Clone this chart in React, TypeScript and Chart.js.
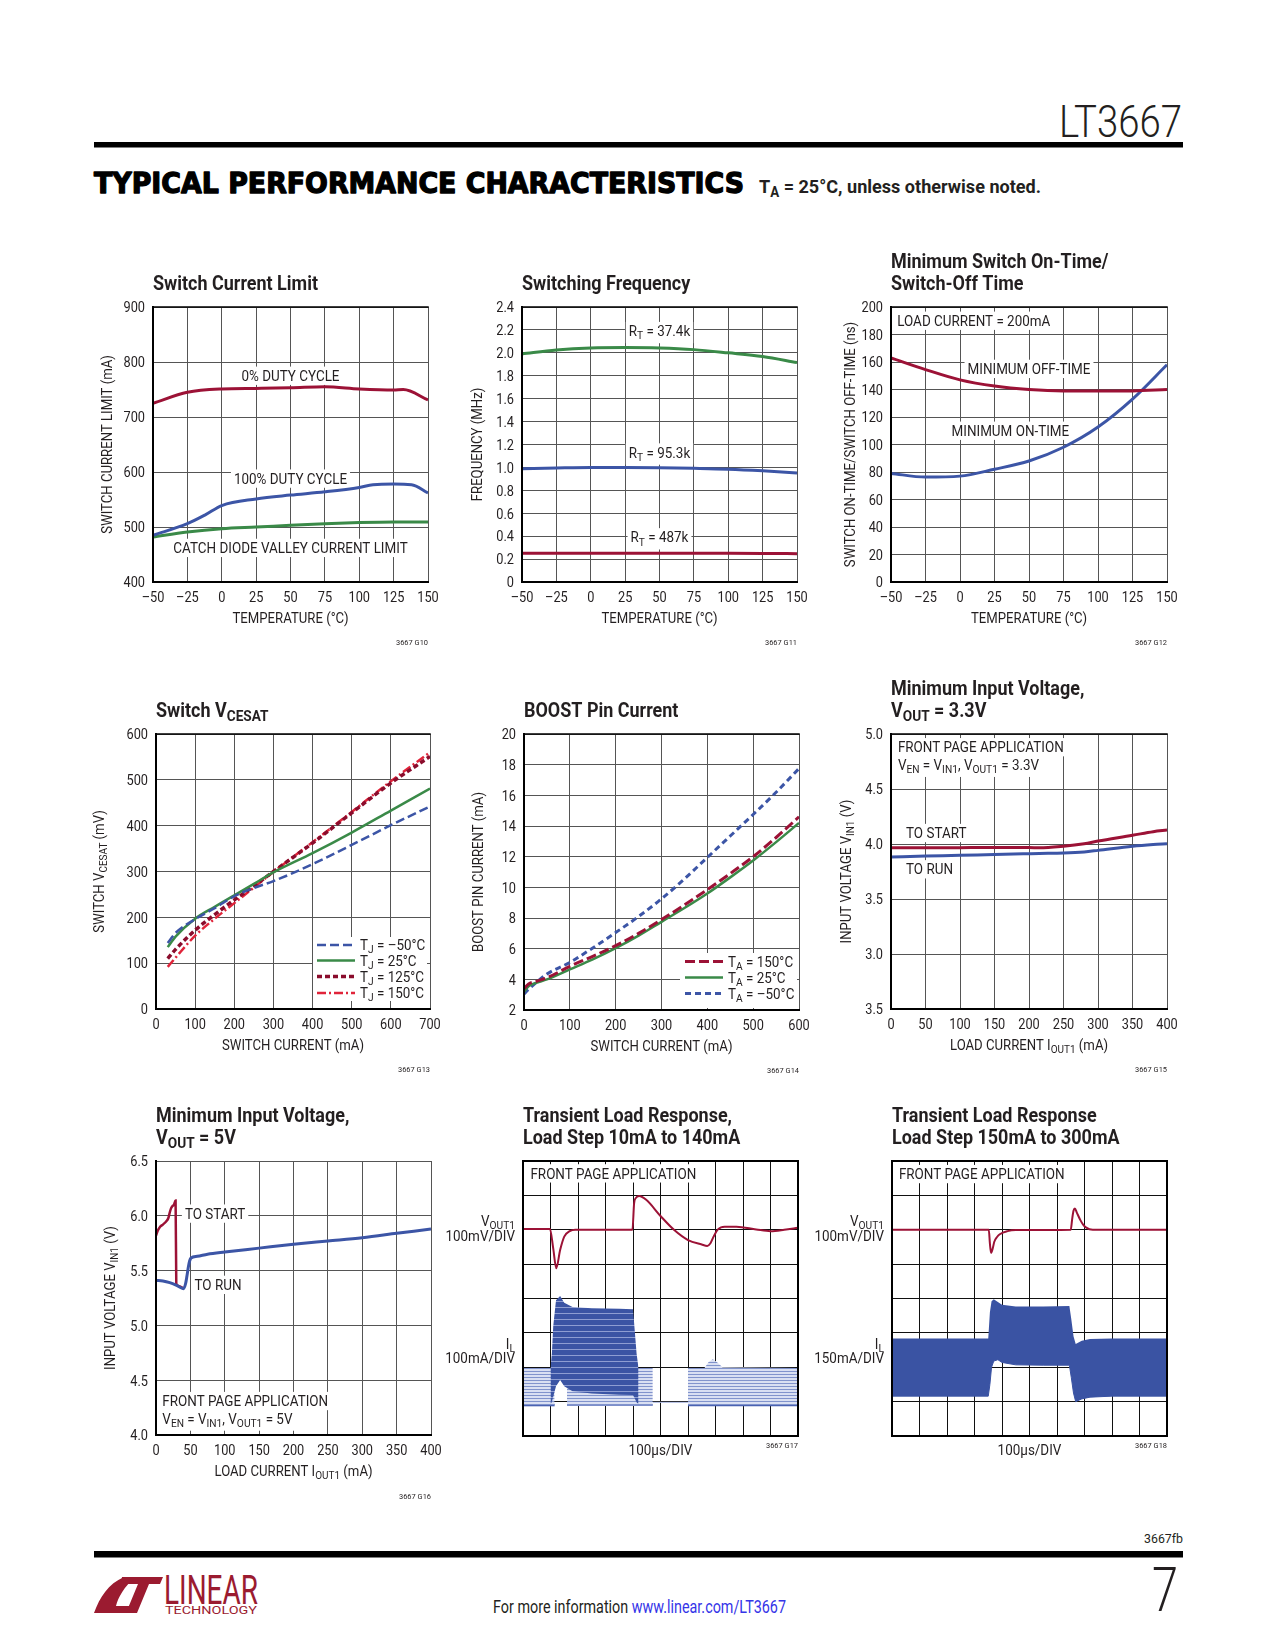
import React, { useEffect, useRef } from 'react';
import { Chart, registerables } from 'chart.js';

Chart.register(...registerables);

// ------------------------------------------------------------------ DATA
const TEMP_LABELS = ['–50', '–25', '0', '25', '50', '75', '100', '125', '150'];

// G10 Switch Current Limit
const G10_Y_LABELS = ['400', '500', '600', '700', '800', '900'];
const G10_DUTY0_T = [-50, -25, 0, 25, 50, 75, 100, 125, 132, 150];
const G10_DUTY0 = [725, 745, 751, 752, 753, 755, 751, 749, 750, 731];
const G10_DUTY100_T = [-50, -25, -12, 0, 25, 50, 75, 100, 110, 125, 138, 150];
const G10_DUTY100 = [485, 506, 522, 539, 551, 558, 564, 572, 577, 578, 577, 562];
const G10_VALLEY_T = [-50, -25, 0, 25, 50, 75, 100, 125, 150];
const G10_VALLEY = [482, 491, 497, 500, 503, 506, 508, 509, 509];

// G11 Switching Frequency
const G11_Y_LABELS = ['0', '0.2', '0.4', '0.6', '0.8', '1.0', '1.2', '1.4', '1.6', '1.8', '2.0', '2.2', '2.4'];
const G11_T = [-50, -25, 0, 25, 50, 75, 100, 125, 150];
const G11_RT37K = [1.99, 2.024, 2.042, 2.046, 2.042, 2.028, 2.0, 1.968, 1.915];
const G11_RT95K = [0.988, 0.995, 1.0, 1.0, 0.998, 0.992, 0.984, 0.97, 0.952];
const G11_RT487K = [0.25, 0.25, 0.25, 0.25, 0.25, 0.25, 0.25, 0.249, 0.247];

// G12 Minimum Switch On-Time / Off-Time
const G12_Y_LABELS = ['0', '20', '40', '60', '80', '100', '120', '140', '160', '180', '200'];
const G12_T = [-50, -25, 0, 25, 50, 75, 100, 125, 150];
const G12_OFF = [163, 154.5, 147, 142.5, 140, 139, 139, 139, 140];
const G12_ON = [79, 76.3, 77, 82, 88, 98, 112.7, 133, 158];

// G13 Switch VCESAT
const G13_X_LABELS = ['0', '100', '200', '300', '400', '500', '600', '700'];
const G13_Y_LABELS = ['0', '100', '200', '300', '400', '500', '600'];
const G13_I = [30, 50, 100, 150, 200, 250, 300, 400, 500, 600, 700];
const G13_M50 = [144, 166, 196, 220, 246, 264, 279, 316, 358, 401, 442];
const G13_25 = [135, 158, 197, 223, 248, 273, 298, 340, 385, 433, 481];
const G13_125 = [110, 130, 172, 206, 238, 268, 300, 362, 428, 493, 551];
const G13_150 = [92, 112, 160, 197, 231, 265, 299, 364, 430, 497, 560];

// G14 BOOST Pin Current
const G14_X_LABELS = ['0', '100', '200', '300', '400', '500', '600'];
const G14_Y_LABELS = ['2', '4', '6', '8', '10', '12', '14', '16', '18', '20'];
const G14_I = [0, 10, 25, 50, 100, 150, 200, 250, 300, 350, 400, 450, 500, 550, 600];
const G14_150 = [3.4, 3.7, 3.85, 4.1, 4.85, 5.5, 6.2, 7.0, 7.9, 8.85, 9.85, 10.9, 12.0, 13.25, 14.6];
const G14_25 = [3.2, 3.55, 3.75, 4.0, 4.65, 5.3, 6.03, 6.85, 7.75, 8.65, 9.6, 10.65, 11.75, 12.95, 14.2];
const G14_M50 = [3.05, 3.35, 3.75, 4.35, 5.1, 6.05, 7.05, 8.1, 9.25, 10.55, 11.95, 13.35, 14.75, 16.2, 17.75];

// G15 Minimum Input Voltage, VOUT = 3.3V
const LOAD_LABELS = ['0', '50', '100', '150', '200', '250', '300', '350', '400'];
const G15_Y_LABELS = ['3.5', '3.0', '3.5', '4.0', '4.5', '5.0'];
const G15_I = [0, 50, 100, 150, 200, 215, 250, 280, 300, 350, 380, 400];
const G15_START = [3.965, 3.966, 3.967, 3.968, 3.968, 3.965, 3.98, 4.003, 4.027, 4.079, 4.112, 4.127];
const G15_RUN = [3.882, 3.89, 3.897, 3.905, 3.912, 3.914, 3.918, 3.928, 3.942, 3.979, 3.995, 4.003];

// G16 Minimum Input Voltage, VOUT = 5V
const G16_Y_LABELS = ['4.0', '4.5', '5.0', '5.5', '6.0', '6.5'];
const G16_START_I = [0, 3, 6, 10, 15, 18, 20, 22, 24, 26, 28.5, 29.5, 33, 38, 40];
const G16_START = [5.82, 5.87, 5.9, 5.92, 5.95, 5.98, 6.03, 6.07, 6.09, 6.1, 6.14, 5.38, 5.36, 5.345, 5.335];
const G16_RUN_I = [0, 10, 20, 30, 40, 43, 45, 47, 49, 51, 60, 75, 100, 150, 200, 250, 300, 350, 400];
const G16_RUN = [5.41, 5.405, 5.39, 5.365, 5.335, 5.38, 5.45, 5.53, 5.59, 5.615, 5.63, 5.65, 5.67, 5.705, 5.74, 5.77, 5.8, 5.84, 5.88];

// G17 Transient Load Response 10mA -> 140mA (scope divisions)
const G17_VOUT_X = [0, 0.5, 0.98, 1.1, 1.21, 1.35, 1.5, 1.7, 1.9, 3, 3.98, 4.04, 4.1, 4.22, 4.48, 5.0, 5.5, 6.0, 6.5, 6.7, 6.81, 6.93, 7.09, 7.33, 7.76, 8.48, 9.0, 9.5, 10];
const G17_VOUT = [6.02, 6.02, 6.02, 5.45, 4.88, 5.41, 5.8, 5.96, 6.0, 6.0, 6.0, 6.77, 6.92, 6.98, 6.87, 6.4, 5.99, 5.7, 5.57, 5.53, 5.6, 5.8, 6.01, 6.09, 6.09, 6.01, 5.96, 6.0, 6.06];
const G17_IL_HI_X = [1.0, 1.05, 1.1, 1.2, 1.35, 1.5, 1.8, 2.5, 3.5, 4.0, 4.06, 4.13, 4.2];
const G17_IL_HI_TOP = [1.98, 2.4, 3.2, 3.95, 4.07, 3.88, 3.75, 3.72, 3.7, 3.69, 3.1, 2.4, 1.98];
const G17_IL_HI_BOT = [0.92, 1.0, 1.15, 1.45, 1.63, 1.45, 1.3, 1.24, 1.2, 1.19, 1.1, 0.98, 0.92];
const G17_IL_LO1_X = [0, 1.15];
const G17_IL_LO1_TOP = [1.98, 1.98];
const G17_IL_LO1_BOT = [0.9, 0.9];
const G17_IL_LO2_X = [1.6, 4.72];
const G17_IL_LO2_TOP = [1.98, 1.98];
const G17_IL_LO2_BOT = [0.9, 0.9];
const G17_IL_LO3_X = [6.0, 6.6, 6.75, 6.9, 7.05, 7.25, 10];
const G17_IL_LO3_TOP = [1.98, 1.98, 2.15, 2.23, 2.15, 2.0, 1.98];
const G17_IL_LO3_BOT = [0.9, 0.9, 0.9, 0.9, 0.9, 0.9, 0.9];
const G17_IL_IDLE_X = [4.72, 6.0];
const G17_IL_IDLE = [0.98, 0.98];

// G18 Transient Load Response 150mA -> 300mA (scope divisions)
const G18_VOUT_X = [0, 3.52, 3.56, 3.6, 3.66, 3.72, 3.82, 3.92, 4.2, 4.5, 6.5, 6.55, 6.6, 6.65, 6.72, 6.85, 6.95, 7.05, 7.3, 10];
const G18_VOUT = [6.0, 6.0, 5.6, 5.33, 5.45, 5.65, 5.79, 5.87, 5.96, 5.99, 6.0, 6.3, 6.55, 6.62, 6.5, 6.28, 6.15, 6.07, 6.0, 6.0];
const G18_IL_X = [0, 3.5, 3.56, 3.62, 3.7, 3.85, 4.0, 4.5, 5.5, 6.45, 6.52, 6.6, 6.68, 6.9, 7.2, 8, 10];
const G18_IL_TOP = [2.84, 2.84, 3.6, 3.92, 3.98, 3.9, 3.82, 3.77, 3.77, 3.78, 3.4, 2.9, 2.68, 2.77, 2.82, 2.84, 2.84];
const G18_IL_BOT = [1.16, 1.16, 1.5, 2.0, 2.18, 2.22, 2.14, 2.07, 2.06, 2.06, 1.7, 1.25, 1.0, 1.08, 1.13, 1.16, 1.16];

// ------------------------------------------------------------------ STYLE
const FONT = 'Roboto, "Liberation Sans", Arial, sans-serif';
const INK = '#231f20';
const RED = '#9c1236';
const BLUE = '#3c55a6';
const GREEN = '#3a8a48';
const DKRED = '#8a0c2c';
const BRRED = '#e0243a';

type Cls = 'tick' | 'ann' | 'axis' | 'title' | 'code';
const TEXT_STYLES: Record<Cls, { size: number; bold: boolean; ref: string; w: number }> = {
  tick: { size: 15, bold: false, ref: '900', w: 21.5 },
  ann: { size: 14.5, bold: false, ref: '0% DUTY CYCLE', w: 98 },
  axis: { size: 14.5, bold: false, ref: 'SWITCH CURRENT (mA)', w: 142 },
  title: { size: 19.5, bold: true, ref: 'Switch Current Limit', w: 165 },
  code: { size: 8, bold: false, ref: '3667 G13', w: 32 },
};
const sxCache: Partial<Record<Cls, number>> = {};

function fontOf(cls: Cls, sub: boolean) {
  const st = TEXT_STYLES[cls];
  const size = sub ? st.size * 0.76 : st.size;
  return `${st.bold ? 'bold ' : ''}${size}px ${FONT}`;
}
function sxOf(ctx: CanvasRenderingContext2D, cls: Cls) {
  if (sxCache[cls] == null) {
    ctx.save();
    ctx.font = fontOf(cls, false);
    const w = ctx.measureText(TEXT_STYLES[cls].ref).width;
    ctx.restore();
    sxCache[cls] = w > 0 ? TEXT_STYLES[cls].w / w : 1;
  }
  return sxCache[cls] as number;
}

type Seg = { t: string; sub: boolean };
function parseRich(s: string): Seg[] {
  const out: Seg[] = [];
  const re = /_\{([^}]*)\}/g;
  let last = 0;
  let m: RegExpExecArray | null;
  while ((m = re.exec(s))) {
    if (m.index > last) out.push({ t: s.slice(last, m.index), sub: false });
    out.push({ t: m[1], sub: true });
    last = m.index + m[0].length;
  }
  if (last < s.length) out.push({ t: s.slice(last), sub: false });
  return out;
}

function drawRich(
  ctx: CanvasRenderingContext2D,
  text: string,
  x: number,
  y: number,
  cls: Cls,
  align: 'left' | 'center' | 'right',
  o: { bg?: boolean; rot?: boolean; color?: string } = {}
) {
  const st = TEXT_STYLES[cls];
  const sx = sxOf(ctx, cls);
  const segs = parseRich(text);
  ctx.save();
  let raw = 0;
  const ws = segs.map((s) => {
    ctx.font = fontOf(cls, s.sub);
    const w = ctx.measureText(s.t).width;
    raw += w;
    return w;
  });
  const w = raw * sx;
  ctx.translate(x, y);
  if (o.rot) ctx.rotate(-Math.PI / 2);
  const x0 = align === 'left' ? 0 : align === 'center' ? -w / 2 : -w;
  const cap = st.size * 0.711;
  const hasSub = segs.some((s) => s.sub);
  if (o.bg) {
    ctx.fillStyle = '#fff';
    ctx.fillRect(x0 - 3, -cap / 2 - 4, w + 6, cap + 8 + (hasSub ? 3 : 0));
  }
  ctx.fillStyle = o.color || INK;
  ctx.textAlign = 'left';
  ctx.textBaseline = 'alphabetic';
  ctx.translate(x0, cap / 2);
  ctx.scale(sx, 1);
  let cx = 0;
  segs.forEach((s, i) => {
    ctx.font = fontOf(cls, s.sub);
    ctx.fillText(s.t, cx, s.sub ? st.size * 0.22 : 0);
    cx += ws[i];
  });
  ctx.restore();
}

function pts(xs: number[], ys: number[]) {
  return xs.map((x, i) => ({ x, y: ys[i] }));
}
function curve(xs: number[], ys: number[], color: string, width = 3, extra: any = {}) {
  return {
    data: pts(xs, ys),
    borderColor: color,
    borderWidth: width,
    pointRadius: 0,
    fill: false,
    cubicInterpolationMode: 'monotone',
    borderCapStyle: 'butt',
    ...extra,
  };
}
function bandTop(xs: number[], ys: number[], bg: any) {
  return { data: pts(xs, ys), borderColor: 'rgba(0,0,0,0)', borderWidth: 0.01, pointRadius: 0, fill: '+1', backgroundColor: bg, tension: 0 };
}
function bandBot(xs: number[], ys: number[], color = 'rgba(0,0,0,0)', width = 0.01) {
  return { data: pts(xs, ys), borderColor: color, borderWidth: width, pointRadius: 0, fill: false, tension: 0 };
}
function stripe(ctx: CanvasRenderingContext2D, rows: [string, number][]) {
  const c = document.createElement('canvas');
  const h = rows.reduce((s, r) => s + r[1], 0);
  c.width = 4;
  c.height = h;
  const g = c.getContext('2d') as CanvasRenderingContext2D;
  let y = 0;
  for (const [col, hh] of rows) {
    g.fillStyle = col;
    g.fillRect(0, y, 4, hh);
    y += hh;
  }
  return ctx.createPattern(c, 'repeat');
}

// ------------------------------------------------------------------ PANELS
type Note = { text: string; x: number; y: number; align?: 'left' | 'center' | 'right'; bg?: boolean };
type LegendCfg = {
  items: { ds: number; text: string }[];
  lineL: number;
  lineR: number;
  textL: number;
  rows: number[];
  box: { l: number; t: number; r: number; b: number };
};
type PanelCfg = {
  plot: [number, number, number, number];
  x: [number, number, number];
  y: [number, number, number];
  datasets: (ctx: CanvasRenderingContext2D) => any[];
  title: string[];
  xTitle?: string;
  yTitle?: string;
  yOff?: number;
  xLabels?: string[];
  yLabels?: string[];
  code: string;
  codeDy: number;
  notes: Note[];
  legend?: LegendCfg;
  topBorder?: boolean;
  scope?: boolean;
  side?: { text: string; dy: number }[];
  under?: string;
};

const PANELS: PanelCfg[] = [
  {
    plot: [153, 307, 275, 275],
    x: [-50, 150, 25],
    y: [400, 900, 100],
    datasets: () => [
      curve(G10_DUTY0_T, G10_DUTY0, RED),
      curve(G10_DUTY100_T, G10_DUTY100, BLUE),
      curve(G10_VALLEY_T, G10_VALLEY, GREEN),
    ],
    title: ['Switch Current Limit'],
    yTitle: 'SWITCH CURRENT LIMIT (mA)',
    yOff: 46,
    xTitle: 'TEMPERATURE (°C)',
    xLabels: TEMP_LABELS,
    yLabels: G10_Y_LABELS,
    code: '3667 G10',
    codeDy: 60,
    topBorder: true,
    notes: [
      { text: '0% DUTY CYCLE', x: 50, y: 775, bg: true },
      { text: '100% DUTY CYCLE', x: 50, y: 588, bg: true },
      { text: 'CATCH DIODE VALLEY CURRENT LIMIT', x: 50, y: 462, bg: true },
    ],
  },
  {
    plot: [522, 307, 275, 275],
    x: [-50, 150, 25],
    y: [0, 2.4, 0.2],
    datasets: () => [
      curve(G11_T, G11_RT37K, GREEN),
      curve(G11_T, G11_RT95K, BLUE),
      curve(G11_T, G11_RT487K, RED),
    ],
    title: ['Switching Frequency'],
    yTitle: 'FREQUENCY (MHz)',
    yOff: 45,
    xTitle: 'TEMPERATURE (°C)',
    xLabels: TEMP_LABELS,
    yLabels: G11_Y_LABELS,
    code: '3667 G11',
    codeDy: 60,
    topBorder: true,
    notes: [
      { text: 'R_{T} = 37.4k', x: 50, y: 2.19, bg: true },
      { text: 'R_{T} = 95.3k', x: 50, y: 1.13, bg: true },
      { text: 'R_{T} = 487k', x: 50, y: 0.39, bg: true },
    ],
  },
  {
    plot: [891, 307, 276, 275],
    x: [-50, 150, 25],
    y: [0, 200, 20],
    datasets: () => [curve(G12_T, G12_OFF, RED), curve(G12_T, G12_ON, BLUE)],
    title: ['Minimum Switch On-Time/', 'Switch-Off Time'],
    yTitle: 'SWITCH ON-TIME/SWITCH OFF-TIME (ns)',
    yOff: 41,
    xTitle: 'TEMPERATURE (°C)',
    xLabels: TEMP_LABELS,
    yLabels: G12_Y_LABELS,
    code: '3667 G12',
    codeDy: 60,
    topBorder: true,
    notes: [
      { text: 'LOAD CURRENT = 200mA', x: -45.5, y: 190, align: 'left', bg: true },
      { text: 'MINIMUM OFF-TIME', x: 50, y: 155, bg: true },
      { text: 'MINIMUM ON-TIME', x: 36.5, y: 110, bg: true },
    ],
  },
  {
    plot: [156, 734, 274, 275],
    x: [0, 700, 100],
    y: [0, 600, 100],
    datasets: () => [
      curve(G13_I, G13_M50, BLUE, 2.5, { borderDash: [9, 4] }),
      curve(G13_I, G13_25, GREEN, 2.5),
      curve(G13_I, G13_125, DKRED, 3.5, { borderDash: [5, 3] }),
      curve(G13_I, G13_150, BRRED, 2.5, { borderDash: [9, 3, 2, 3] }),
    ],
    title: ['Switch V_{CESAT}'],
    yTitle: 'SWITCH V_{CESAT} (mV)',
    yOff: 57,
    xTitle: 'SWITCH CURRENT (mA)',
    xLabels: G13_X_LABELS,
    yLabels: G13_Y_LABELS,
    code: '3667 G13',
    codeDy: 60,
    topBorder: true,
    notes: [],
    legend: {
      items: [
        { ds: 0, text: 'T_{J} = –50°C' },
        { ds: 1, text: 'T_{J} = 25°C' },
        { ds: 2, text: 'T_{J} = 125°C' },
        { ds: 3, text: 'T_{J} = 150°C' },
      ],
      lineL: 113,
      lineR: 75,
      textL: 70,
      rows: [64, 48.5, 32.5, 16],
      box: { l: 117, t: 72, r: 3, b: 8 },
    },
  },
  {
    plot: [524, 734, 275, 276],
    x: [0, 600, 100],
    y: [2, 20, 2],
    datasets: () => [
      curve(G14_I, G14_150, RED, 3, { borderDash: [10, 4] }),
      curve(G14_I, G14_25, GREEN, 2.5),
      curve(G14_I, G14_M50, BLUE, 3, { borderDash: [6, 4] }),
    ],
    title: ['BOOST Pin Current'],
    yTitle: 'BOOST PIN CURRENT (mA)',
    yOff: 46,
    xTitle: 'SWITCH CURRENT (mA)',
    xLabels: G14_X_LABELS,
    yLabels: G14_Y_LABELS,
    code: '3667 G14',
    codeDy: 60,
    topBorder: true,
    notes: [],
    legend: {
      items: [
        { ds: 0, text: 'T_{A} = 150°C' },
        { ds: 1, text: 'T_{A} = 25°C' },
        { ds: 2, text: 'T_{A} = –50°C' },
      ],
      lineL: 114,
      lineR: 76,
      textL: 71,
      rows: [48.5, 32.5, 16.5],
      box: { l: 119, t: 57, r: 2, b: 2 },
    },
  },
  {
    plot: [891, 734, 276, 275],
    x: [0, 400, 50],
    y: [2.5, 5, 0.5],
    datasets: () => [curve(G15_I, G15_START, RED), curve(G15_I, G15_RUN, BLUE)],
    title: ['Minimum Input Voltage,', 'V_{OUT} = 3.3V'],
    yTitle: 'INPUT VOLTAGE V_{IN1} (V)',
    yOff: 45,
    xTitle: 'LOAD CURRENT I_{OUT1} (mA)',
    xLabels: LOAD_LABELS,
    yLabels: G15_Y_LABELS,
    code: '3667 G15',
    codeDy: 60,
    topBorder: true,
    notes: [
      { text: 'FRONT PAGE APPLICATION', x: 10, y: 4.88, align: 'left', bg: true },
      { text: 'V_{EN} = V_{IN1}, V_{OUT1} = 3.3V', x: 10, y: 4.72, align: 'left', bg: true },
      { text: 'TO START', x: 21.8, y: 4.1, align: 'left', bg: true },
      { text: 'TO RUN', x: 21.8, y: 3.77, align: 'left', bg: true },
    ],
  },
  {
    plot: [156, 1161, 275, 274],
    x: [0, 400, 50],
    y: [4, 6.5, 0.5],
    datasets: () => [curve(G16_RUN_I, G16_RUN, BLUE), curve(G16_START_I, G16_START, RED, 2.5)],
    title: ['Minimum Input Voltage,', 'V_{OUT} = 5V'],
    yTitle: 'INPUT VOLTAGE V_{IN1} (V)',
    yOff: 46,
    xTitle: 'LOAD CURRENT I_{OUT1} (mA)',
    xLabels: LOAD_LABELS,
    yLabels: G16_Y_LABELS,
    code: '3667 G16',
    codeDy: 61,
    topBorder: false,
    notes: [
      { text: 'TO START', x: 42, y: 6.02, align: 'left', bg: true },
      { text: 'TO RUN', x: 56, y: 5.37, align: 'left', bg: true },
      { text: 'FRONT PAGE APPLICATION', x: 9.2, y: 4.31, align: 'left', bg: true },
      { text: 'V_{EN} = V_{IN1}, V_{OUT1} = 5V', x: 9.2, y: 4.15, align: 'left', bg: true },
    ],
  },
  {
    plot: [523, 1161, 275, 275],
    x: [0, 10, 1],
    y: [0, 8, 1],
    scope: true,
    datasets: (ctx) => {
      const dense = stripe(ctx, [['#3b54a4', 5], ['#8e9dd2', 1]]);
      const light = stripe(ctx, [['#8193cc', 1], ['#d9dff2', 2]]);
      return [
        curve(G17_VOUT_X, G17_VOUT, RED, 2),
        bandTop(G17_IL_HI_X, G17_IL_HI_TOP, dense),
        bandBot(G17_IL_HI_X, G17_IL_HI_BOT),
        bandTop(G17_IL_LO1_X, G17_IL_LO1_TOP, light),
        bandBot(G17_IL_LO1_X, G17_IL_LO1_BOT, '#4a62b2', 2.5),
        bandTop(G17_IL_LO2_X, G17_IL_LO2_TOP, light),
        bandBot(G17_IL_LO2_X, G17_IL_LO2_BOT, '#7d8fcb', 2),
        bandTop(G17_IL_LO3_X, G17_IL_LO3_TOP, light),
        bandBot(G17_IL_LO3_X, G17_IL_LO3_BOT, '#4a62b2', 2.5),
        bandBot(G17_IL_IDLE_X, G17_IL_IDLE, '#aab6e0', 1),
      ];
    },
    title: ['Transient Load Response,', 'Load Step 10mA to 140mA'],
    code: '3667 G17',
    codeDy: 9,
    notes: [{ text: 'FRONT PAGE APPLICATION', x: 0.27, y: 7.64, align: 'left', bg: true }],
    side: [
      { text: 'V_{OUT1}', dy: 60 },
      { text: '100mV/DIV', dy: 75 },
      { text: 'I_{L}', dy: 183 },
      { text: '100mA/DIV', dy: 197 },
    ],
    under: '100µs/DIV',
  },
  {
    plot: [892, 1161, 275, 275],
    x: [0, 10, 1],
    y: [0, 8, 1],
    scope: true,
    datasets: () => [
      curve(G18_VOUT_X, G18_VOUT, RED, 2),
      bandTop(G18_IL_X, G18_IL_TOP, '#3a53a3'),
      bandBot(G18_IL_X, G18_IL_BOT, '#3a53a3', 1),
    ],
    title: ['Transient Load Response', 'Load Step 150mA to 300mA'],
    code: '3667 G18',
    codeDy: 9,
    notes: [{ text: 'FRONT PAGE APPLICATION', x: 0.25, y: 7.62, align: 'left', bg: true }],
    side: [
      { text: 'V_{OUT1}', dy: 60 },
      { text: '100mV/DIV', dy: 75 },
      { text: 'I_{L}', dy: 183 },
      { text: '150mA/DIV', dy: 197 },
    ],
    under: '100µs/DIV',
  },
];

// ------------------------------------------------------------------ PLUGIN
function makeDeco(cfg: PanelCfg) {
  return {
    id: 'deco',
    beforeDatasetsDraw(chart: any) {
      const ctx: CanvasRenderingContext2D = chart.ctx;
      const a = chart.chartArea;
      const xs = chart.scales.x;
      const ys = chart.scales.y;
      if (cfg.legend) {
        const b = cfg.legend.box;
        ctx.save();
        ctx.fillStyle = '#fff';
        ctx.fillRect(a.right - b.l, a.bottom - b.t, b.l - b.r, b.t - b.b);
        ctx.restore();
      }
      for (const n of cfg.notes) {
        drawRich(ctx, n.text, xs.getPixelForValue(n.x), ys.getPixelForValue(n.y), 'ann', n.align || 'center', { bg: n.bg });
      }
      if (cfg.legend) {
        const lg = cfg.legend;
        lg.items.forEach((it, i) => {
          const ds = chart.data.datasets[it.ds];
          const yy = a.bottom - lg.rows[i];
          ctx.save();
          ctx.strokeStyle = ds.borderColor;
          ctx.lineWidth = ds.borderWidth;
          ctx.setLineDash(ds.borderDash || []);
          ctx.lineCap = 'butt';
          ctx.beginPath();
          ctx.moveTo(a.right - lg.lineL, yy);
          ctx.lineTo(a.right - lg.lineR, yy);
          ctx.stroke();
          ctx.restore();
          drawRich(ctx, it.text, a.right - lg.textL, yy, 'ann', 'left');
        });
      }
    },
    afterDatasetsDraw(chart: any) {
      const ctx: CanvasRenderingContext2D = chart.ctx;
      const a = chart.chartArea;
      const seg = (x1: number, y1: number, x2: number, y2: number) => {
        ctx.beginPath();
        ctx.moveTo(x1, y1);
        ctx.lineTo(x2, y2);
        ctx.stroke();
      };
      ctx.save();
      ctx.strokeStyle = '#000';
      ctx.lineCap = 'square';
      ctx.lineWidth = 2;
      seg(a.left, a.top, a.left, a.bottom);
      seg(a.left, a.bottom, a.right, a.bottom);
      if (cfg.scope) {
        seg(a.left, a.top, a.right, a.top);
        seg(a.right, a.top, a.right, a.bottom);
      } else if (cfg.topBorder) {
        ctx.lineWidth = 1.5;
        seg(a.left, a.top, a.right, a.top);
      }
      ctx.restore();
    },
    afterDraw(chart: any) {
      const ctx: CanvasRenderingContext2D = chart.ctx;
      const a = chart.chartArea;
      const xs = chart.scales.x;
      const ys = chart.scales.y;
      if (cfg.yLabels) {
        ys.ticks.forEach((tk: any, i: number) => {
          const lbl = cfg.yLabels![i];
          if (lbl != null) drawRich(ctx, lbl, a.left - 8, ys.getPixelForValue(tk.value), 'tick', 'right');
        });
      }
      if (cfg.xLabels) {
        xs.ticks.forEach((tk: any, i: number) => {
          const lbl = cfg.xLabels![i];
          if (lbl != null) drawRich(ctx, lbl, xs.getPixelForValue(tk.value), a.bottom + 15, 'tick', 'center');
        });
      }
      const n = cfg.title.length;
      const tcap = TEXT_STYLES.title.size * 0.711;
      cfg.title.forEach((line, i) => {
        const base = a.top - 17.5 - (n - 1 - i) * 22;
        drawRich(ctx, line, a.left, base - tcap / 2, 'title', 'left');
      });
      if (cfg.yTitle) drawRich(ctx, cfg.yTitle, a.left - (cfg.yOff || 45), (a.top + a.bottom) / 2, 'axis', 'center', { rot: true });
      if (cfg.xTitle) drawRich(ctx, cfg.xTitle, (a.left + a.right) / 2, a.bottom + 36, 'axis', 'center');
      drawRich(ctx, cfg.code, a.right, a.bottom + cfg.codeDy, 'code', 'right');
      if (cfg.side) for (const s of cfg.side) drawRich(ctx, s.text, a.left - 8, a.top + s.dy, 'ann', 'right');
      if (cfg.under) drawRich(ctx, cfg.under, (a.left + a.right) / 2, a.bottom + 14, 'ann', 'center');
    },
  };
}

// ------------------------------------------------------------------ COMPONENTS
const PL = 90;
const PT = 75;
const PR = 25;
const PB = 75;

function Panel({ cfg }: { cfg: PanelCfg }) {
  const ref = useRef<HTMLCanvasElement>(null);
  const [l, t, w, h] = cfg.plot;
  const W = PL + w + PR;
  const H = PT + h + PB;
  useEffect(() => {
    const canvas = ref.current as HTMLCanvasElement;
    const ctx = canvas.getContext('2d') as CanvasRenderingContext2D;
    const grid = {
      color: cfg.scope ? '#111' : '#555',
      lineWidth: 1,
      drawTicks: false,
    };
    const chart = new Chart(canvas, {
      type: 'line',
      data: { datasets: cfg.datasets(ctx) },
      options: {
        animation: false,
        responsive: false,
        maintainAspectRatio: false,
        events: [],
        layout: { padding: { left: 0, top: PT, right: PR, bottom: 0 } },
        plugins: { legend: { display: false }, tooltip: { enabled: false }, title: { display: false } },
        scales: {
          x: {
            type: 'linear',
            min: cfg.x[0],
            max: cfg.x[1],
            ticks: { display: false, stepSize: cfg.x[2], autoSkip: false },
            grid,
            border: { display: false },
            afterFit: (s: any) => {
              s.height = PB;
            },
          },
          y: {
            type: 'linear',
            min: cfg.y[0],
            max: cfg.y[1],
            ticks: { display: false, stepSize: cfg.y[2], autoSkip: false },
            grid,
            border: { display: false },
            afterFit: (s: any) => {
              s.width = PL;
            },
          },
        },
      } as any,
      plugins: [makeDeco(cfg) as any],
    });
    return () => chart.destroy();
  }, []);
  return (
    <canvas
      ref={ref}
      width={W}
      height={H}
      style={{ position: 'absolute', left: l - PL, top: t - PT, width: W, height: H }}
    />
  );
}

function PageSvg() {
  const logo = '#9b1b30';
  return (
    <svg
      width={1275}
      height={1650}
      style={{ position: 'absolute', left: 0, top: 0 }}
      xmlns="http://www.w3.org/2000/svg"
    >
      <text x={1059} y={137} fontFamily={FONT} fontWeight={300} fontSize={45} textLength={123} lengthAdjust="spacingAndGlyphs" fill={INK}>
        LT3667
      </text>
      <rect x={94} y={142} width={1089} height={5.5} fill="#000" />
      <text
        x={94}
        y={193}
        fontFamily='"DejaVu Sans", Verdana, sans-serif'
        fontWeight="bold"
        fontSize={28}
        textLength={650}
        lengthAdjust="spacingAndGlyphs"
        fill="#000"
        stroke="#000"
        strokeWidth={1.3}
        strokeLinejoin="round"
      >
        TYPICAL PERFORMANCE CHARACTERISTICS
      </text>
      <text x={759} y={193} fontFamily={FONT} fontWeight="bold" fontSize={19} textLength={282} lengthAdjust="spacingAndGlyphs" fill={INK}>
        T<tspan fontSize={14} dy={4}>A</tspan>
        <tspan dy={-4}>{' = 25°C, unless otherwise noted.'}</tspan>
      </text>
      <text x={1144} y={1543} fontFamily={FONT} fontSize={12.5} textLength={39} lengthAdjust="spacingAndGlyphs" fill={INK}>
        3667fb
      </text>
      <rect x={94} y={1551} width={1089} height={6.5} fill="#000" />
      <text x={1152} y={1611} fontFamily={FONT} fontWeight={300} fontSize={62} textLength={26} lengthAdjust="spacingAndGlyphs" fill={INK}>
        7
      </text>
      <text x={493} y={1613} fontFamily={FONT} fontSize={18} textLength={293} lengthAdjust="spacingAndGlyphs" fill={INK}>
        {'For more information '}
        <tspan fill="#3535e8">www.linear.com/LT3667</tspan>
      </text>
      <path d="M94,1613 C100,1597 108,1584 124,1577 L136,1577 C124,1586 118,1598 116,1606 L132,1606 L129,1613 Z" fill={logo} />
      <path d="M122,1577 L163,1577 L160,1584 L149,1584 L137,1613 L126,1613 L138,1584 L121,1584 Z" fill={logo} />
      <text x={164} y={1604} fontFamily={FONT} fontSize={40} textLength={94} lengthAdjust="spacingAndGlyphs" fill={logo}>
        LINEAR
      </text>
      <text x={165} y={1614} fontFamily={FONT} fontSize={11} textLength={92} lengthAdjust="spacingAndGlyphs" fill={logo}>
        TECHNOLOGY
      </text>
    </svg>
  );
}

export default function App() {
  return (
    <div style={{ position: 'absolute', left: 0, top: 0, width: 1275, height: 1650, background: '#fff', overflow: 'hidden' }}>
      <PageSvg />
      {PANELS.map((p) => (
        <Panel key={p.code} cfg={p} />
      ))}
    </div>
  );
}
